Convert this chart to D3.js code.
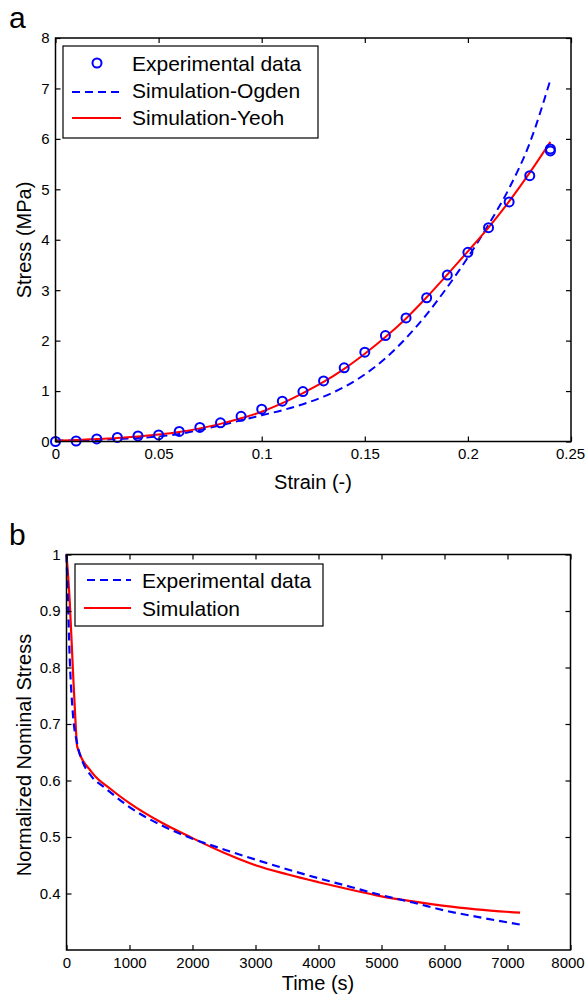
<!DOCTYPE html>
<html>
<head>
<meta charset="utf-8">
<script src="https://cdn.jsdelivr.net/npm/d3@7"></script>
<style>
  body { margin: 0; background: #fff; }
  text { font-family: "Liberation Sans", Arial, sans-serif; fill: #000; }
</style>
</head>
<body>
<div id="chart"></div>
<script>
// panel a: stress-strain
const strainPts = [0, 0.01, 0.02, 0.03, 0.04, 0.05, 0.06, 0.07, 0.08, 0.09, 0.10, 0.11, 0.12,
                   0.13, 0.14, 0.15, 0.16, 0.17, 0.18, 0.19, 0.20, 0.21, 0.22, 0.23, 0.24, 0.24];
const stressExp = [0, 0.01, 0.05, 0.08, 0.11, 0.13, 0.20, 0.28, 0.37, 0.50, 0.64, 0.80, 0.99,
                   1.20, 1.46, 1.77, 2.10, 2.45, 2.85, 3.30, 3.75, 4.24, 4.75, 5.27, 5.80, 5.76];
const strainSim = [0, 0.01, 0.02, 0.03, 0.04, 0.05, 0.06, 0.07, 0.08, 0.09, 0.10, 0.11, 0.12,
                   0.13, 0.14, 0.15, 0.16, 0.17, 0.18, 0.19, 0.20, 0.21, 0.22, 0.23, 0.24];
const stressOgden = [0.02, 0.02, 0.03, 0.05, 0.07, 0.10, 0.15, 0.23, 0.32, 0.42, 0.52, 0.62, 0.74,
                     0.89, 1.08, 1.33, 1.65, 2.05, 2.52, 3.06, 3.65, 4.30, 5.02, 5.92, 7.17];
const stressYeoh = [0.02, 0.03, 0.05, 0.07, 0.10, 0.14, 0.19, 0.26, 0.35, 0.46, 0.59, 0.76, 0.96,
                    1.18, 1.44, 1.74, 2.07, 2.44, 2.86, 3.31, 3.77, 4.24, 4.76, 5.33, 5.94];
const strainTicks = [0, 0.05, 0.1, 0.15, 0.2, 0.25];
const stressTicks = [0, 1, 2, 3, 4, 5, 6, 7, 8];

// panel b: relaxation
const timeExp = [0, 20, 50, 100, 170, 250, 400, 600, 1000, 1500, 2000, 2500, 3000, 3500,
                 4000, 4500, 5000, 5500, 6000, 6500, 7200];
const normExp = [1.0, 0.93, 0.82, 0.72, 0.665, 0.635, 0.607, 0.588, 0.553, 0.521, 0.497, 0.478,
                 0.460, 0.443, 0.427, 0.412, 0.397, 0.384, 0.370, 0.359, 0.345];
const timeSim = [0, 50, 100, 140, 170, 400, 700, 1000, 1500, 2000, 2500, 3000, 3500, 4000,
                 4500, 5000, 5500, 6000, 6500, 7200];
const normSim = [1.0, 0.92, 0.80, 0.71, 0.66, 0.615, 0.585, 0.560, 0.526, 0.498, 0.472, 0.450,
                 0.434, 0.420, 0.407, 0.395, 0.386, 0.378, 0.372, 0.366];
const timeTicks = [0, 1000, 2000, 3000, 4000, 5000, 6000, 7000, 8000];
const normTicks = [0.4, 0.5, 0.6, 0.7, 0.8, 0.9, 1];

const width = 587;
const height = 998;
const blue = "#0000ff";
const red = "#ff0000";

const svg = d3.select("#chart").append("svg")
  .attr("width", width)
  .attr("height", height);

function drawFrame(g, x, y, xTicks, yTicks) {
  const [x0, x1] = x.range();
  const [y0, y1] = y.range();

  g.append("g")
    .attr("class", "xaxis")
    .attr("transform", "translate(0," + y0 + ")")
    .call(d3.axisBottom(x).tickValues(xTicks).tickFormat(d => d)
      .tickSizeInner(-5).tickSizeOuter(0).tickPadding(7));
  g.append("g")
    .attr("transform", "translate(0," + y1 + ")")
    .call(d3.axisTop(x).tickValues(xTicks).tickFormat("")
      .tickSizeInner(-5).tickSizeOuter(0));
  g.append("g")
    .attr("transform", "translate(" + x0 + ",0)")
    .call(d3.axisLeft(y).tickValues(yTicks).tickFormat(d => d)
      .tickSizeInner(-5).tickSizeOuter(0).tickPadding(6));
  g.append("g")
    .attr("transform", "translate(" + x1 + ",0)")
    .call(d3.axisRight(y).tickValues(yTicks).tickFormat("")
      .tickSizeInner(-5).tickSizeOuter(0));

  g.selectAll(".domain").remove();
  g.selectAll(".tick line").attr("stroke", "#000").attr("stroke-width", 1.2);
  g.selectAll(".tick text").attr("font-size", 15).attr("fill", "#111");

  g.append("rect")
    .attr("x", x0).attr("y", y1)
    .attr("width", x1 - x0).attr("height", y0 - y1)
    .attr("fill", "none").attr("stroke", "#000").attr("stroke-width", 1.5);
}

// ---------- panel a ----------
const xA = d3.scaleLinear().domain([0, 0.25]).range([55.5, 571]);
const yA = d3.scaleLinear().domain([0, 8]).range([441.5, 38]);
const gA = svg.append("g");

const lineA = d3.line().curve(d3.curveMonotoneX);

gA.append("path")
  .attr("d", lineA(strainSim.map((s, i) => [xA(s), yA(stressOgden[i])])))
  .attr("fill", "none").attr("stroke", blue).attr("stroke-width", 2)
  .attr("stroke-dasharray", "8,5");

gA.append("path")
  .attr("d", lineA(strainSim.map((s, i) => [xA(s), yA(stressYeoh[i])])))
  .attr("fill", "none").attr("stroke", red).attr("stroke-width", 2);

gA.selectAll("circle.exp")
  .data(strainPts.map((s, i) => ({ s: s, v: stressExp[i] })))
  .enter()
  .append("circle")
    .attr("class", "exp")
    .attr("cx", d => xA(d.s))
    .attr("cy", d => yA(d.v))
    .attr("r", 4.5)
    .attr("fill", "none")
    .attr("stroke", blue)
    .attr("stroke-width", 2);

drawFrame(gA, xA, yA, strainTicks, stressTicks);
gA.selectAll(".xaxis .tick text").filter(d => d === 0.25).attr("dx", -1);

// legend a
const legA = gA.append("g");
legA.append("rect")
  .attr("x", 63).attr("y", 46).attr("width", 255).attr("height", 92)
  .attr("fill", "#fff").attr("stroke", "#000").attr("stroke-width", 1.2);
legA.append("circle")
  .attr("cx", 97).attr("cy", 63).attr("r", 4.5)
  .attr("fill", "none").attr("stroke", blue).attr("stroke-width", 2);
legA.append("line")
  .attr("x1", 72).attr("x2", 121).attr("y1", 92).attr("y2", 92)
  .attr("stroke", blue).attr("stroke-width", 2).attr("stroke-dasharray", "8,5");
legA.append("line")
  .attr("x1", 72).attr("x2", 121).attr("y1", 118).attr("y2", 118)
  .attr("stroke", red).attr("stroke-width", 2);
["Experimental data", "Simulation-Ogden", "Simulation-Yeoh"].forEach((t, i) => {
  legA.append("text")
    .attr("x", 132).attr("y", 71 + i * 27)
    .attr("font-size", 21)
    .text(t);
});

gA.append("text").attr("x", 9).attr("y", 28).attr("font-size", 30).text("a");
gA.append("text")
  .attr("x", 313).attr("y", 489)
  .attr("text-anchor", "middle").attr("font-size", 20)
  .text("Strain (-)");
gA.append("text")
  .attr("transform", "translate(31,240) rotate(-90)")
  .attr("text-anchor", "middle").attr("font-size", 20)
  .text("Stress (MPa)");

// ---------- panel b ----------
const xB = d3.scaleLinear().domain([0, 8000]).range([66.5, 570.5]);
const yB = d3.scaleLinear().domain([0.3, 1]).range([950, 554.5]);
const gB = svg.append("g");

const lineB = d3.line().curve(d3.curveMonotoneX);

gB.append("path")
  .attr("d", lineB(timeSim.map((t, i) => [xB(t), yB(normSim[i])])))
  .attr("fill", "none").attr("stroke", red).attr("stroke-width", 2.2);

gB.append("path")
  .attr("d", lineB(timeExp.map((t, i) => [xB(t), yB(normExp[i])])))
  .attr("fill", "none").attr("stroke", blue).attr("stroke-width", 2.2)
  .attr("stroke-dasharray", "8,5");

drawFrame(gB, xB, yB, timeTicks, normTicks);
gB.selectAll(".xaxis .tick text").filter(d => d === 8000).attr("dx", -3);

// legend b
const legB = gB.append("g");
legB.append("rect")
  .attr("x", 75).attr("y", 564).attr("width", 248).attr("height", 62)
  .attr("fill", "#fff").attr("stroke", "#000").attr("stroke-width", 1.2);
legB.append("line")
  .attr("x1", 87).attr("x2", 131).attr("y1", 580).attr("y2", 580)
  .attr("stroke", blue).attr("stroke-width", 2).attr("stroke-dasharray", "8,5");
legB.append("line")
  .attr("x1", 84).attr("x2", 131).attr("y1", 608).attr("y2", 608)
  .attr("stroke", red).attr("stroke-width", 2);
["Experimental data", "Simulation"].forEach((t, i) => {
  legB.append("text")
    .attr("x", 142).attr("y", 588 + i * 28)
    .attr("font-size", 21)
    .text(t);
});

gB.append("text").attr("x", 9).attr("y", 545).attr("font-size", 30).text("b");
gB.append("text")
  .attr("x", 318).attr("y", 990)
  .attr("text-anchor", "middle").attr("font-size", 20)
  .text("Time (s)");
gB.append("text")
  .attr("transform", "translate(31,755) rotate(-90)")
  .attr("text-anchor", "middle").attr("font-size", 20)
  .text("Normalized Nominal Stress");
</script>
</body>
</html>
